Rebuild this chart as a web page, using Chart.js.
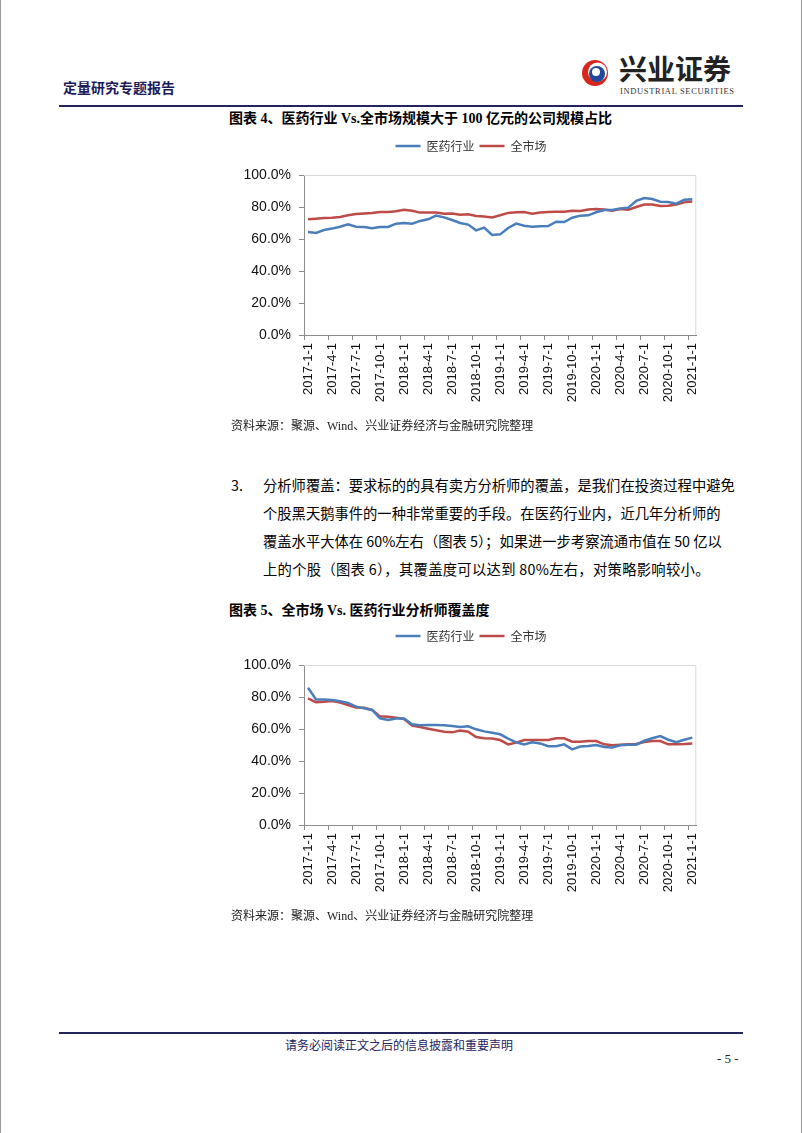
<!DOCTYPE html>
<html>
<head>
  <meta charset="utf-8">
  <script src="https://cdn.jsdelivr.net/npm/chart.js@4.4.0/dist/chart.umd.min.js"></script>
  <style>
    html, body { margin: 0; padding: 0; background: #fff; }
    #page { position: relative; width: 802px; height: 1133px; box-sizing: border-box; border-left: 1px solid #999; border-right: 1px solid #999; overflow: hidden;
      font-family: "Liberation Serif", "Noto Sans CJK SC", serif; color: #000; }
    .abs { position: absolute; white-space: nowrap; }
    .hdr { left: 62px; top: 77px; font-size: 14px; font-weight: bold; color: #1c1c5a; }
    .hline { left: 58px; width: 684px; height: 2px; background: #23235e; }
    .logo-cn { left: 618px; top: 48px; font-size: 28px; font-weight: bold; color: #222; font-family: "Noto Sans CJK SC"; }
    .logo-en { left: 619px; top: 86px; font-size: 8.5px; color: #333; letter-spacing: 0.65px; }
    .ttl { left: 228px; font-size: 14px; font-weight: bold; }
    .src { left: 230px; font-size: 12px; color: #222; }
    .para { font-size: 14.3px; font-family: "Noto Sans CJK SC"; }
    .chart { position: absolute; }
    .foot { left: 284px; top: 1036px; font-size: 12px; color: #23235e; font-family: "Noto Sans CJK SC"; }
    .pno { left: 716px; top: 1051px; font-size: 13px; color: #222; }
  </style>
</head>
<body>
<div id="page">
  <div class="abs hdr">定量研究专题报告</div>
  <svg class="abs" style="left:580px;top:59px" width="28" height="28" viewBox="0 0 28 28">
    <circle cx="14" cy="14" r="13" fill="#d7261e"/>
    <circle cx="16.5" cy="13" r="9.5" fill="#fff"/>
    <circle cx="16" cy="15" r="8" fill="#1f4a9b"/>
    <circle cx="15" cy="13" r="4" fill="#fff"/>
  </svg>
  <div class="abs logo-cn">兴业证券</div>
  <div class="abs logo-en">INDUSTRIAL SECURITIES</div>
  <div class="abs hline" style="top:105px"></div>

  <div class="abs ttl" style="top:107px">图表 4、医药行业 Vs.全市场规模大于 100 亿元的公司规模占比</div>
  <div class="chart" style="left:240px;top:135px;width:470px;height:287px"><canvas id="c1"></canvas></div>
  <div class="abs src" style="top:416px">资料来源：聚源、Wind、兴业证券经济与金融研究院整理</div>

  <div class="abs para" style="left:230px;top:474px">3.</div>
  <div class="abs para" style="left:262px;top:474px">分析师覆盖：要求标的的具有卖方分析师的覆盖，是我们在投资过程中避免</div>
  <div class="abs para" style="left:262px;top:502px">个股黑天鹅事件的一种非常重要的手段。在医药行业内，近几年分析师的</div>
  <div class="abs para" style="left:262px;top:530px">覆盖水平大体在 60%左右（图表 5）；如果进一步考察流通市值在 50 亿以</div>
  <div class="abs para" style="left:262px;top:558px;letter-spacing:0.3px">上的个股（图表 6），其覆盖度可以达到 80%左右，对策略影响较小。</div>

  <div class="abs ttl" style="top:599px">图表 5、全市场 Vs. 医药行业分析师覆盖度</div>
  <div class="chart" style="left:240px;top:625px;width:470px;height:287px"><canvas id="c2"></canvas></div>
  <div class="abs src" style="top:906px">资料来源：聚源、Wind、兴业证券经济与金融研究院整理</div>

  <div class="abs hline" style="top:1032px"></div>
  <div class="abs foot">请务必阅读正文之后的信息披露和重要声明</div>
  <div class="abs pno">- 5 -</div>
</div>

<script>
  // monthly dates, label shown every quarter
  var months = [
    '2017-1-1','2017-2-1','2017-3-1','2017-4-1','2017-5-1','2017-6-1','2017-7-1','2017-8-1','2017-9-1','2017-10-1','2017-11-1','2017-12-1',
    '2018-1-1','2018-2-1','2018-3-1','2018-4-1','2018-5-1','2018-6-1','2018-7-1','2018-8-1','2018-9-1','2018-10-1','2018-11-1','2018-12-1',
    '2019-1-1','2019-2-1','2019-3-1','2019-4-1','2019-5-1','2019-6-1','2019-7-1','2019-8-1','2019-9-1','2019-10-1','2019-11-1','2019-12-1',
    '2020-1-1','2020-2-1','2020-3-1','2020-4-1','2020-5-1','2020-6-1','2020-7-1','2020-8-1','2020-9-1','2020-10-1','2020-11-1','2020-12-1',
    '2021-1-1'
  ];
  var seriesNames = ['医药行业', '全市场'];
  var yTicks = [0, 20, 40, 60, 80, 100];

  // chart 4: share of companies above 10bn (%)
  var bigPharma = [64.4,63.8,65.6,66.5,67.7,69.2,67.7,67.5,66.7,67.5,67.5,69.6,70,69.6,71.3,72.3,74.6,73.5,71.9,70,
    69,65.4,67.1,62.5,62.9,66.9,69.6,68.3,67.7,67.9,68.1,70.8,70.6,73.3,74.6,74.8,76.7,78.1,78.1,79,
    79.6,83.8,85.6,85,83.3,83.1,82.1,84.6,84.8];
  var bigMarket = [72.3,72.7,73.1,73.3,73.8,74.8,75.6,76,76.3,76.9,76.9,77.3,78.3,77.7,76.5,76.5,76.5,75.8,76,75.2,
    75.4,74.4,74,73.5,74.8,76.3,76.7,76.9,75.8,76.5,76.9,77.1,77.1,77.7,77.5,78.5,78.8,78.5,77.7,78.8,
    78.3,80,81.5,81.5,80.6,80.8,81.5,82.9,83.5];

  // chart 5: analyst coverage (%)
  var covPharma = [85.8,78.5,78.5,78.1,77.3,76.3,74,72.9,71.9,66.7,65.6,66.5,66.5,62.9,62.3,62.5,62.5,62.3,61.9,61.3,
    61.7,59.8,58.5,57.7,56.7,54,51.7,50.4,51.7,51,49.2,49.2,50.4,47.3,49,49.4,50,48.8,48.5,49.8,
    50.2,50.2,52.7,54.2,55.6,53.3,51.7,53.3,54.6];
  var covMarket = [79.2,76.7,77.1,77.5,76.5,75,73.5,73.3,71.9,67.9,67.7,67.1,66.3,62.1,61.3,60.2,59.2,58.3,57.9,59,
    58.3,55,54.2,54,53.1,50.4,51.5,53.1,53.1,53.1,53.1,54.2,54.2,52.1,52.1,52.5,52.5,50.4,49.8,50.2,
    50.4,50.6,51.9,52.5,52.5,50.4,50.4,50.6,51];

  var BLUE = '#4a7ebb';
  var RED = '#be4b48';
  var AXIS = '#8c8c8c';

  // light frame on top and right of the plot area
  var frame = {
    id: 'frame',
    beforeDatasetsDraw: function(chart) {
      var a = chart.chartArea, ctx = chart.ctx;
      ctx.save();
      ctx.strokeStyle = '#d9d9d9';
      ctx.lineWidth = 1;
      ctx.beginPath();
      ctx.moveTo(a.left, a.top + 0.5);
      ctx.lineTo(a.right - 0.5, a.top + 0.5);
      ctx.lineTo(a.right - 0.5, a.bottom);
      ctx.stroke();
      ctx.restore();
    }
  };

  // fixed legend block height so the plot starts lower
  var legendSpace = {
    id: 'legendSpace',
    beforeInit: function(chart) {
      var fit = chart.legend.fit;
      chart.legend.fit = function() {
        fit.call(this);
        this.height = 40;
      };
    }
  };

  function makeChart(id, pharma, market) {
    var ctx = document.getElementById(id).getContext('2d');
    return new Chart(ctx, {
      type: 'line',
      data: {
        labels: months,
        datasets: [
          { label: seriesNames[0], data: pharma, borderColor: BLUE, backgroundColor: BLUE, borderWidth: 2.5, pointRadius: 0, tension: 0 },
          { label: seriesNames[1], data: market, borderColor: RED, backgroundColor: RED, borderWidth: 2.5, pointRadius: 0, tension: 0 }
        ]
      },
      options: {
        responsive: true,
        maintainAspectRatio: false,
        animation: false,
        layout: { padding: { right: 10, top: 0 } },
        plugins: {
          tooltip: { enabled: false },
          legend: {
            position: 'top',
            labels: {
              usePointStyle: true,
              pointStyle: 'line',
              pointStyleWidth: 25,
              color: '#333',
              font: { family: 'Noto Sans CJK SC', size: 12 },
              padding: 5
            }
          }
        },
        scales: {
          x: {
            offset: true,
            grid: {
              offset: true,
              drawOnChartArea: false,
              tickLength: 5,
              tickColor: function(c) { return c.index % 3 === 0 ? AXIS : 'rgba(0,0,0,0)'; }
            },
            border: { color: AXIS },
            ticks: {
              autoSkip: false,
              minRotation: 90,
              maxRotation: 90,
              padding: 3,
              color: '#111',
              font: { family: 'Liberation Sans', size: 13 },
              callback: function(v, i) { return i % 3 === 0 ? months[i] : ''; }
            },
            afterFit: function(s) { s.height = 87; }
          },
          y: {
            min: 0,
            max: 100,
            afterBuildTicks: function(s) { s.ticks = yTicks.map(function(v) { return { value: v }; }); },
            grid: { drawOnChartArea: false, tickLength: 5, tickColor: AXIS },
            border: { color: AXIS },
            ticks: {
              padding: 8,
              color: '#111',
              font: { family: 'Liberation Sans', size: 14 },
              callback: function(v) { return v.toFixed(1) + '%'; }
            },
            afterFit: function(s) { s.width = 63; }
          }
        }
      },
      plugins: [frame, legendSpace]
    });
  }

  makeChart('c1', bigPharma, bigMarket);
  makeChart('c2', covPharma, covMarket);
</script>
</body>
</html>
